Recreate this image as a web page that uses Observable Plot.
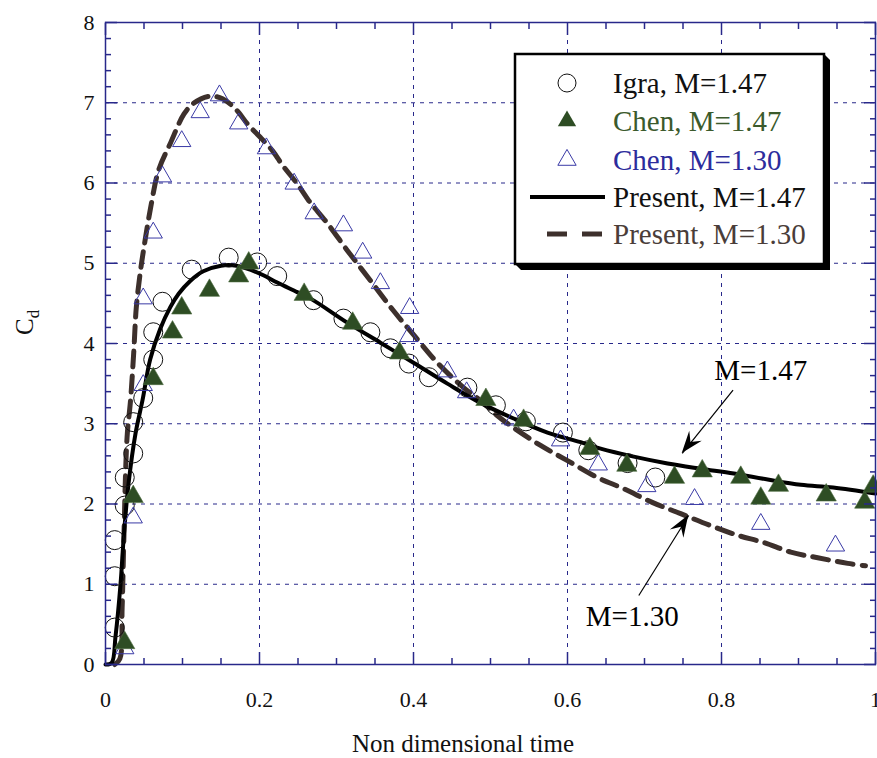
<!DOCTYPE html>
<html>
<head>
<meta charset="utf-8">
<script src="https://cdn.jsdelivr.net/npm/d3@7"></script>
<script src="https://cdn.jsdelivr.net/npm/@observablehq/plot@0.6"></script>
<style>
  html, body { margin: 0; padding: 0; background: #fff; }
  #chart { width: 877px; height: 758px; }
</style>
</head>
<body>
<div id="chart"></div>
<script>
// ---- Data ----
const igraT  = [0.012,0.012,0.012,0.025,0.025,0.036,0.036,0.049,0.062,0.062,0.074,0.112,0.160,0.197,0.223,0.270,0.309,0.344,0.370,0.394,0.420,0.470,0.507,0.546,0.594,0.627,0.678,0.714];
const igraCd = [0.46,1.10,1.55,1.98,2.33,2.63,3.02,3.32,3.80,4.14,4.52,4.92,5.07,5.01,4.84,4.54,4.31,4.14,3.94,3.75,3.58,3.45,3.23,3.03,2.89,2.67,2.51,2.33];

const chen147T  = [0.025,0.036,0.062,0.087,0.099,0.135,0.173,0.186,0.258,0.321,0.382,0.494,0.543,0.629,0.677,0.739,0.775,0.825,0.851,0.874,0.936,0.986,0.997];
const chen147Cd = [0.27,2.09,3.56,4.14,4.44,4.66,4.84,5.00,4.61,4.25,3.88,3.30,3.04,2.69,2.48,2.33,2.41,2.33,2.07,2.23,2.11,2.02,2.22];

const chen130T  = [0.025,0.036,0.049,0.049,0.062,0.074,0.099,0.123,0.148,0.173,0.209,0.245,0.271,0.309,0.334,0.357,0.395,0.394,0.444,0.469,0.530,0.591,0.640,0.703,0.765,0.851,0.948];
const chen130Cd = [0.20,1.83,3.48,4.56,5.38,6.08,6.52,6.88,7.09,6.74,6.43,5.99,5.62,5.47,5.13,4.75,4.44,4.09,3.65,3.39,3.05,2.79,2.49,2.22,2.06,1.75,1.48];

const present147T  = [0,0.008,0.013,0.0195,0.024,0.030,0.039,0.048,0.058,0.071,0.084,0.095,0.110,0.127,0.150,0.170,0.188,0.205,0.223,0.249,0.268,0.314,0.357,0.400,0.444,0.487,0.530,0.574,0.617,0.643,0.686,0.730,0.773,0.816,0.860,0.903,0.945,1.0];
const present147Cd = [0,0.02,0.35,1.00,1.63,2.26,2.88,3.29,3.80,4.18,4.45,4.62,4.78,4.90,4.97,4.97,4.92,4.85,4.76,4.64,4.55,4.26,4.01,3.76,3.50,3.26,3.065,2.89,2.77,2.69,2.59,2.505,2.44,2.38,2.305,2.24,2.205,2.13];

const present130T  = [0.012,0.0186,0.0216,0.0238,0.028,0.0325,0.0368,0.040,0.0455,0.050,0.058,0.069,0.084,0.102,0.114,0.134,0.152,0.171,0.184,0.201,0.217,0.230,0.249,0.264,0.288,0.314,0.344,0.373,0.403,0.431,0.465,0.487,0.509,0.530,0.565,0.600,0.639,0.673,0.710,0.747,0.786,0.821,0.855,0.890,0.925,0.964,0.987];
const present130Cd = [0,0.07,0.71,1.55,2.83,3.29,3.91,4.45,4.91,5.20,5.66,6.16,6.49,6.86,6.99,7.08,7.05,6.90,6.74,6.57,6.40,6.22,5.99,5.78,5.50,5.16,4.785,4.42,4.075,3.76,3.45,3.29,3.10,2.95,2.73,2.54,2.33,2.19,2.02,1.88,1.73,1.61,1.52,1.40,1.33,1.26,1.23];

const xTicks = [0, 0.2, 0.4, 0.6, 0.8, 1];
const xTickLabels = ["0", "0.2", "0.4", "0.6", "0.8", "1"];
const xMinorTicks = [0.05,0.1,0.15,0.25,0.3,0.35,0.45,0.5,0.55,0.65,0.7,0.75,0.85,0.9,0.95];
const yTicks = [0, 1, 2, 3, 4, 5, 6, 7, 8];
const yTickLabels = ["0","1","2","3","4","5","6","7","8"];
const yMinorTicks = [0.2,0.4,0.6,0.8,1.2,1.4,1.6,1.8,2.2,2.4,2.6,2.8,3.2,3.4,3.6,3.8,4.2,4.4,4.6,4.8,5.2,5.4,5.6,5.8,6.2,6.4,6.6,6.8,7.2,7.4,7.6,7.8];

const legendLabels = ["Igra, M=1.47", "Chen, M=1.47", "Chen, M=1.30", "Present, M=1.47", "Present, M=1.30"];
const annT = [0.851, 0.684];
const annCd = [3.66, 0.59];
const annText = ["M=1.47", "M=1.30"];
const arrowFromT = [0.815, 0.6926];
const arrowFromCd = [3.42, 0.86];
const arrowToT = [0.749, 0.7575];
const arrowToCd = [2.63, 1.857];

// ---- Tables ----
const zip = (a, b) => a.map((t, i) => ({t, cd: b[i]}));
const igra = zip(igraT, igraCd);
const chen147 = zip(chen147T, chen147Cd);
const chen130 = zip(chen130T, chen130Cd);
const present147 = zip(present147T, present147Cd);
const present130 = zip(present130T, present130Cd);
const ann = annText.map((s, i) => ({t: annT[i], cd: annCd[i], s}));
const arrows = arrowFromT.map((_, i) => ({x1: arrowFromT[i], y1: arrowFromCd[i], x2: arrowToT[i], y2: arrowToCd[i]}));

// ---- Styles ----
const NAVY = "#28288a";
const GREEN = "#2e4d24";
const BLUE = "#3a3aa6";
const BROWN = "#3d302c";
const FONT = "'Liberation Serif', 'Times New Roman', serif";

const plot = Plot.plot({
  width: 877,
  height: 758,
  marginLeft: 105,
  marginRight: 2,
  marginTop: 22,
  marginBottom: 94,
  x: {domain: [0, 1]},
  y: {domain: [0, 8]},
  style: {fontFamily: FONT, background: "white", overflow: "visible"},
  marks: [
    Plot.ruleX(xTicks.slice(1, -1), {stroke: NAVY, strokeWidth: 1, strokeDasharray: "4,5"}),
    Plot.ruleY(yTicks.slice(1, -1), {stroke: NAVY, strokeWidth: 1, strokeDasharray: "4,5"}),
    // lines
    Plot.line(present130, {x: "t", y: "cd", stroke: BROWN, strokeWidth: 5, strokeDasharray: "16,9", curve: "catmull-rom"}),
    Plot.line(present147, {x: "t", y: "cd", stroke: "#000", strokeWidth: 4, curve: "catmull-rom"}),
    // markers
    Plot.dot(igra, {x: "t", y: "cd", r: 9.5, stroke: "#111", strokeWidth: 1, fill: "none"}),
    Plot.dot(chen130, {x: "t", y: "cd", symbol: "triangle", r: 6.8, stroke: BLUE, strokeWidth: 1, fill: "none"}),
    Plot.dot(chen147, {x: "t", y: "cd", symbol: "triangle", r: 7.5, fill: GREEN, stroke: "#4d6b40", strokeWidth: 0.6}),
    // annotations
    Plot.link(arrows, {x1: "x1", y1: "y1", x2: "x2", y2: "y2", stroke: "#000", strokeWidth: 1.2}),
    Plot.text(ann, {x: "t", y: "cd", text: "s", fontSize: 29, fontFamily: FONT, fill: "#000", textAnchor: "middle"}),
    // frame & ticks (inward)
    Plot.frame({stroke: NAVY, strokeWidth: 1.5}),
    Plot.axisX(xTicks, {anchor: "bottom", tickSize: -12, tickFormat: () => "", label: null, stroke: NAVY, strokeWidth: 1.5}),
    Plot.axisX(xMinorTicks, {anchor: "bottom", tickSize: -6, tickFormat: () => "", label: null, stroke: NAVY, strokeWidth: 1.5}),
    Plot.axisX(xTicks, {anchor: "top", tickSize: -12, tickFormat: () => "", label: null, stroke: NAVY, strokeWidth: 1.5}),
    Plot.axisX(xMinorTicks, {anchor: "top", tickSize: -6, tickFormat: () => "", label: null, stroke: NAVY, strokeWidth: 1.5}),
    Plot.axisY(yTicks, {anchor: "left", tickSize: -12, tickFormat: () => "", label: null, stroke: NAVY, strokeWidth: 1.5}),
    Plot.axisY(yMinorTicks, {anchor: "left", tickSize: -6, tickFormat: () => "", label: null, stroke: NAVY, strokeWidth: 1.5}),
    Plot.axisY(yTicks, {anchor: "right", tickSize: -12, tickFormat: () => "", label: null, stroke: NAVY, strokeWidth: 1.5}),
    Plot.axisY(yMinorTicks, {anchor: "right", tickSize: -6, tickFormat: () => "", label: null, stroke: NAVY, strokeWidth: 1.5}),
    // tick labels
    Plot.axisX(xTicks, {anchor: "bottom", tickSize: 0, tickPadding: 27, tickFormat: (d) => xTickLabels[xTicks.indexOf(d)], label: null, fontSize: 22, fontFamily: FONT, fill: "#111"}),
    Plot.axisY(yTicks, {anchor: "left", tickSize: 0, tickPadding: 11, tickFormat: (d) => yTickLabels[yTicks.indexOf(d)], label: null, fontSize: 22, fontFamily: FONT, fill: "#111"})
  ]
});

document.getElementById("chart").appendChild(plot);

// ---- Extras: arrowheads, axis titles, legend ----
const svg = d3.select(plot);
const X = plot.scale("x"), Y = plot.scale("y");

// filled stealth arrowheads at the tips
arrows.forEach(a => {
  const x1 = X.apply(a.x1), y1 = Y.apply(a.y1), x2 = X.apply(a.x2), y2 = Y.apply(a.y2);
  const len = Math.hypot(x2 - x1, y2 - y1);
  const ux = (x2 - x1) / len, uy = (y2 - y1) / len;
  const nx = -uy, ny = ux;
  const L = 22, W = 8, N = 14;
  const pts = [
    [x2, y2],
    [x2 - L * ux + W * nx, y2 - L * uy + W * ny],
    [x2 - N * ux, y2 - N * uy],
    [x2 - L * ux - W * nx, y2 - L * uy - W * ny]
  ];
  svg.append("path").attr("d", "M" + pts.map(p => p.join(",")).join("L") + "Z").attr("fill", "#000");
});

// x axis title
svg.append("text")
  .attr("x", 463).attr("y", 752)
  .attr("text-anchor", "middle")
  .attr("font-family", FONT).attr("font-size", 25).attr("fill", "#111")
  .text("Non dimensional time");

// y axis title C_d
const yt = svg.append("text")
  .attr("transform", "translate(33,335) rotate(-90)")
  .attr("text-anchor", "start")
  .attr("font-family", FONT).attr("font-size", 25).attr("fill", "#111");
yt.append("tspan").text("C");
yt.append("tspan").attr("font-size", 17).attr("dy", 6).text("d");

// legend
const lg = svg.append("g");
const bx = 515, by = 54, bw = 309, bh = 210, sh = 6;
lg.append("path")
  .attr("d", `M${bx},${by + bh}L${bx + sh},${by + bh + sh}L${bx + bw + sh},${by + bh + sh}L${bx + bw + sh},${by + sh}L${bx + bw},${by}Z`)
  .attr("fill", "#000");
lg.append("rect").attr("x", bx).attr("y", by).attr("width", bw).attr("height", bh)
  .attr("fill", "#fff").attr("stroke", "#000").attr("stroke-width", 2.5);

const symX = 567, textX = 613;
const rowsY = [83, 121, 160, 197, 234];
const textColors = ["#111", "#3b5a2c", "#2c2c9c", "#111", "#4a3d39"];
lg.append("circle").attr("cx", symX).attr("cy", rowsY[0]).attr("r", 9).attr("fill", "none").attr("stroke", "#111").attr("stroke-width", 1);
lg.append("path").attr("transform", `translate(${symX},${rowsY[1]})`)
  .attr("d", d3.symbol(d3.symbolTriangle, Math.PI * 6.8 * 6.8)()).attr("fill", GREEN);
lg.append("path").attr("transform", `translate(${symX},${rowsY[2]})`)
  .attr("d", d3.symbol(d3.symbolTriangle, Math.PI * 6.8 * 6.8)()).attr("fill", "none").attr("stroke", BLUE).attr("stroke-width", 1);
lg.append("line").attr("x1", 530).attr("x2", 605).attr("y1", rowsY[3]).attr("y2", rowsY[3]).attr("stroke", "#000").attr("stroke-width", 4);
lg.append("line").attr("x1", 547).attr("x2", 567).attr("y1", rowsY[4]).attr("y2", rowsY[4]).attr("stroke", BROWN).attr("stroke-width", 5);
lg.append("line").attr("x1", 582).attr("x2", 602).attr("y1", rowsY[4]).attr("y2", rowsY[4]).attr("stroke", BROWN).attr("stroke-width", 5);
legendLabels.forEach((s, i) => {
  lg.append("text").attr("x", textX).attr("y", rowsY[i] + 10)
    .attr("text-anchor", "start")
    .attr("font-family", FONT).attr("font-size", 29).attr("fill", textColors[i])
    .text(s);
});
</script>
</body>
</html>
